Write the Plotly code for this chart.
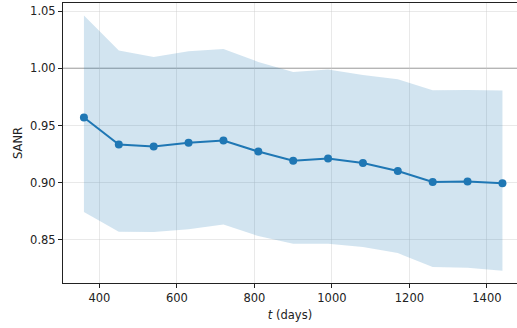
import plotly.graph_objects as go

days = [360, 450, 540, 630, 720, 810, 900, 990, 1080, 1170, 1260, 1350, 1440]
sanr = [0.957, 0.9333, 0.9316, 0.935, 0.9368, 0.9272, 0.9193, 0.9211, 0.9172, 0.9103, 0.9006, 0.901, 0.8995]
upper = [1.046, 1.0155, 1.0099, 1.0149, 1.0169, 1.0055, 0.9968, 0.9988, 0.9941, 0.9904, 0.9808, 0.981, 0.9805]
lower = [0.8744, 0.8572, 0.8570, 0.8593, 0.8634, 0.8534, 0.8467, 0.8467, 0.8438, 0.8385, 0.8263, 0.8258, 0.8231]
yticks = [0.85, 0.90, 0.95, 1.00, 1.05]
xticks = [400, 600, 800, 1000, 1200, 1400]

C0 = "#1f77b4"
fig = go.Figure()
fig.add_trace(go.Scatter(x=days, y=upper, mode="lines", line=dict(width=0), showlegend=False, hoverinfo="skip"))
fig.add_trace(go.Scatter(x=days, y=lower, mode="lines", line=dict(width=0), fill="tonexty",
                         fillcolor="rgba(31,119,180,0.2)", showlegend=False, hoverinfo="skip"))
fig.add_hline(y=1.0, line=dict(color="rgba(128,128,128,0.9)", width=1.2), layer="below")
fig.add_trace(go.Scatter(x=days, y=sanr, mode="lines+markers", line=dict(color=C0, width=2),
                         marker=dict(color=C0, size=8), showlegend=False, cliponaxis=False))

font = dict(family="DejaVu Sans", size=11.5, color="#222")
fig.update_layout(
    width=517, height=328,
    margin=dict(l=63, r=0, t=3, b=45, autoexpand=False),
    plot_bgcolor="white", paper_bgcolor="white",
    font=font,
    xaxis=dict(range=[306, 1477.6], tickvals=xticks, showgrid=True, gridcolor="rgba(200,200,200,0.4)",
               gridwidth=1, showline=True, linecolor="#222", linewidth=1, mirror=True,
               ticks="outside", ticklen=4, tickcolor="#222", zeroline=False, automargin=False,
               title=dict(text="<i>t</i> (days)", standoff=7, font=font)),
    yaxis=dict(range=[0.8124, 1.057], tickvals=yticks, tickformat=".2f", showgrid=True,
               gridcolor="rgba(200,200,200,0.4)", gridwidth=1, showline=True, linecolor="#222",
               linewidth=1, ticks="outside", ticklen=4, tickcolor="#222", zeroline=False, automargin=False,
               title=dict(text="SANR", standoff=5, font=font)),
)
fig.write_html("out.html", config={"displayModeBar": False},
               post_script="document.body.style.margin='0';document.body.style.overflow='hidden';")
